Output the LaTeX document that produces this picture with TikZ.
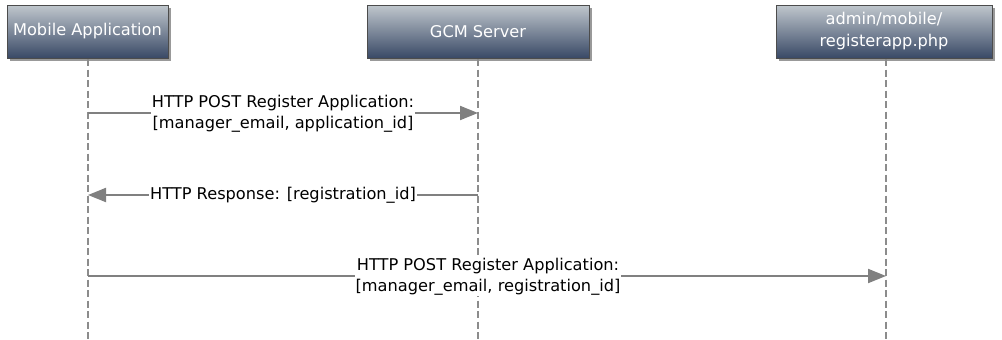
\documentclass[tikz,border=0pt]{standalone}
\usepackage{fontspec}
\setmainfont{DejaVu Sans}
\usetikzlibrary{arrows.meta,shadows}
\definecolor{boxtop}{HTML}{C0C7CD}
\definecolor{boxbot}{HTML}{394966}
\definecolor{msggray}{HTML}{808080}
\definecolor{linegray}{HTML}{8C8C8C}
\tikzset{
  actor/.style={draw=black!70, line width=0.6pt, top color=boxtop, bottom color=boxbot,
    text=white, font=\fontsize{16.2}{22}\selectfont, align=center, minimum height=53pt,
    inner sep=0pt, drop shadow={shadow xshift=2.5pt, shadow yshift=-2.5pt, fill=black, opacity=0.4}},
  lifeline/.style={draw=linegray, line width=1.8pt, dash pattern=on 7pt off 3.5pt},
  msg/.style={draw=msggray, line width=2pt, -{Triangle[length=18pt,width=14pt]}},
  msglabel/.style={fill=white, inner sep=1pt, align=center, font=\fontsize{16.2}{20.5}\selectfont}
}
\begin{document}
\begin{tikzpicture}[x=1pt,y=-1pt]
\useasboundingbox[fill=white] (0,0) rectangle (1002,340);
% participants
\node[actor, minimum width=161pt] (mob) at (87.5,31.5) {Mobile Application};
\node[actor, minimum width=222pt] (gcm) at (478,31.5) {GCM Server};
\node[actor, minimum width=216pt] (adm) at (884,31.5) {admin/mobile/\\registerapp.php};
% lifelines
\coordinate (mobend) at (88,340);
\coordinate (gcmend) at (478,340);
\coordinate (admend) at (886,340);
\coordinate (mobtop) at (88,59);
\coordinate (gcmtop) at (478,59);
\coordinate (admtop) at (886,59);
\draw[lifeline] (mobtop) -- (mobend);
\draw[lifeline] (gcmtop) -- (gcmend);
\draw[lifeline] (admtop) -- (admend);
% message anchor points on the lifelines
\coordinate (m1a) at (88,113);
\coordinate (m1b) at (478,113);
\coordinate (m2a) at (478,195);
\coordinate (m2b) at (88,195);
\coordinate (m3a) at (88,276);
\coordinate (m3b) at (886,276);
% messages
\draw[msg] (m1a) -- (m1b);
\node[msglabel] (l1) at (283,114) {HTTP POST Register Application:\\{}[manager\_email, application\_id]};
\draw[msg] (m2a) -- (m2b);
\node[msglabel] (l2) at (283,195) {HTTP Response: [registration\_id]};
\draw[msg] (m3a) -- (m3b);
\node[msglabel] (l3) at (488,277) {HTTP POST Register Application:\\{}[manager\_email, registration\_id]};
\end{tikzpicture}
\end{document}
